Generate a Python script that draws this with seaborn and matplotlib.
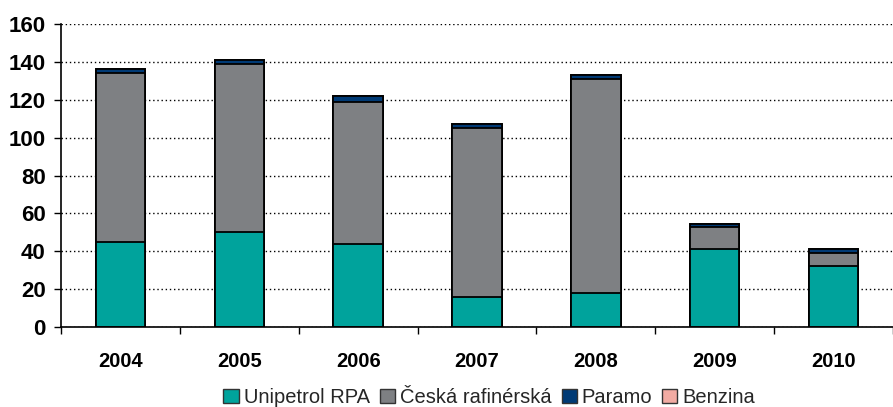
import matplotlib
matplotlib.use("Agg")
import matplotlib.pyplot as plt
import matplotlib.patches as mpatches
import seaborn as sns
import pandas as pd
import numpy as np

years = ["2004", "2005", "2006", "2007", "2008", "2009", "2010"]
unipetrol = [45, 50, 44, 16, 18, 41, 32]
ceska = [89, 89, 75, 89, 113, 12, 7]
paramo = [2, 2, 3, 2, 2, 1.5, 2]
benzina = [0, 0, 0, 0, 0, 0, 0]

series = ["Unipetrol RPA", "Česká rafinérská", "Paramo", "Benzina"]
colors = ["#00A39C", "#7E8083", "#003A75", "#F2ABA3"]

sns.set_theme(style="white")
plt.rcParams["font.family"] = ["Liberation Sans", "DejaVu Sans"]

df = pd.DataFrame({"year": years, "Unipetrol RPA": unipetrol,
                   "Česká rafinérská": ceska, "Paramo": paramo, "Benzina": benzina})
# cumulative sums, drawn biggest first so smaller stacks sit on top
cum = df[series].cumsum(axis=1)

fig = plt.figure(figsize=(8.93, 4.07), dpi=100)
ax = fig.add_axes([61 / 893, 80 / 407, 832 / 893, 303 / 407])

for name, col in reversed(list(zip(series, colors))):
    sns.barplot(x=df["year"], y=cum[name], color=col, width=0.415,
                edgecolor="black", linewidth=1.3, saturation=1, ax=ax)

ax.set_ylim(0, 160)
ax.set_xlim(-0.5, 6.42)
ax.set_yticks(range(0, 161, 20))
ax.yaxis.grid(True, linestyle=(0, (1, 2)), color="black", linewidth=1)
ax.set_axisbelow(True)
ax.set_xlabel("")
ax.set_ylabel("")
for s in ["top", "right"]:
    ax.spines[s].set_visible(False)
for s in ["left", "bottom"]:
    ax.spines[s].set_color("black")
    ax.spines[s].set_linewidth(1.2)

ax.tick_params(axis="y", left=True, length=5, width=1, color="black", direction="out",
               labelsize=16, pad=6)
ax.tick_params(axis="x", bottom=False, labelsize=14.5, pad=12)
ax.set_xticks(np.arange(-0.5, 7, 1), minor=True)
ax.tick_params(axis="x", which="minor", bottom=True, length=5, width=1, color="black", direction="out")
for lab in ax.get_xticklabels() + ax.get_yticklabels():
    lab.set_fontweight("bold")
    lab.set_color("black")

handles = [mpatches.Patch(facecolor=c, edgecolor="#333333", linewidth=1, label=n)
           for n, c in zip(series, colors)]
fig.legend(handles=handles, loc="lower center", bbox_to_anchor=(0.548, -0.025), ncol=4,
           frameon=False, fontsize=14.5, handlelength=0.75, handleheight=0.75,
           handletextpad=0.25, columnspacing=0.5, borderaxespad=0.1)

fig.savefig("out.png", dpi=100)
